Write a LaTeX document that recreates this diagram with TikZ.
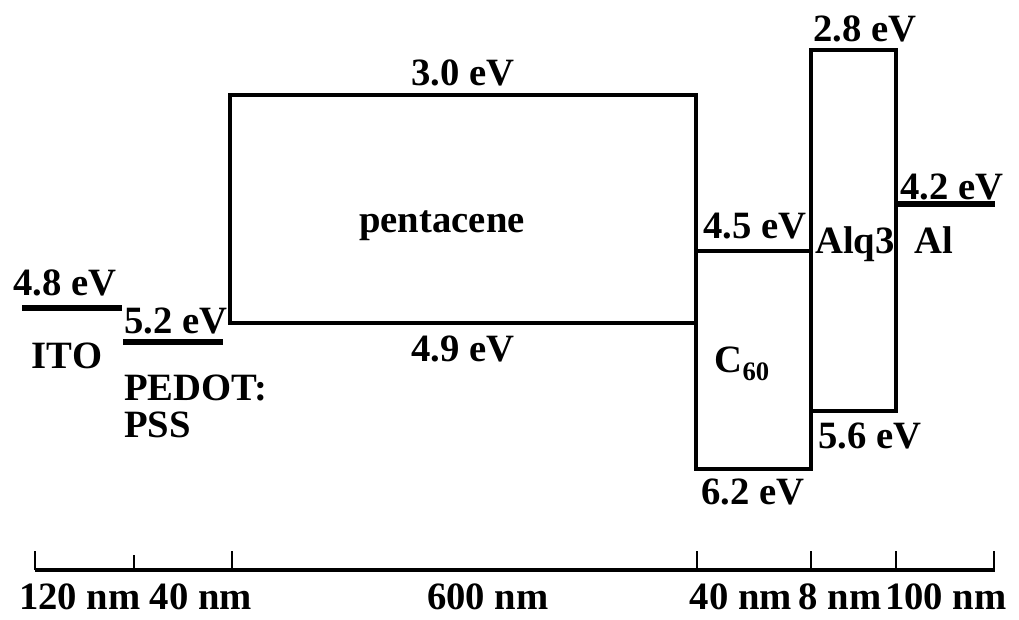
\documentclass[tikz,border=0pt]{standalone}
\usepackage{fontspec}
\setmainfont{Liberation Serif}
\usetikzlibrary{positioning}
\tikzset{
  band/.style={draw=black,line width=2.3pt,line join=miter},
  metal/.style={line width=4.6pt},
  axisline/.style={line width=2.6pt},
  tickmark/.style={line width=2pt},
  lbl/.style={inner sep=0pt,anchor=base,font=\bfseries\fontsize{29}{34}\selectfont},
  scalelbl/.style={lbl,text depth=0pt}
}
\begin{document}
\begin{tikzpicture}[x=0.75pt,y=-0.75pt]
  \useasboundingbox (0,0) rectangle (1019,619);
  % electrodes as single levels, organic layers as HOMO/LUMO boxes
  \coordinate (itoL) at (22,308);   \coordinate (itoR) at (122,308);
  \coordinate (pedL) at (123,342);  \coordinate (pedR) at (223,342);
  \coordinate (penTL) at (230,95);  \coordinate (penBR) at (696,323);
  \coordinate (c60TL) at (696,251); \coordinate (c60BR) at (811,469);
  \coordinate (alqTL) at (811,50);  \coordinate (alqBR) at (896,411);
  \coordinate (alL) at (898,204);   \coordinate (alR) at (995,204);

  \draw[metal] (itoL) -- (itoR);
  \draw[metal] (pedL) -- (pedR);
  \draw[band] (penTL) rectangle (penBR);
  \draw[band] (c60TL) rectangle (c60BR);
  \draw[band] (alqTL) rectangle (alqBR);
  \draw[metal] (alL) -- (alR);

  \node[lbl] (itoE) at (65,295) {4.8 eV};
  \node[lbl] (itoN) at (67,368) {ITO};
  \node[lbl] (pedE) at (176,333) {5.2 eV};
  \node[lbl,anchor=base west] (pedN) at (124,400) {PEDOT:};
  \node[lbl,anchor=base west] (pssN) at (124,437) {PSS};
  \node[lbl] (penLumo) at (463,85) {3.0 eV};
  \node[lbl] (penN) at (442,232) {pentacene};
  \node[lbl] (penHomo) at (463,361) {4.9 eV};
  \node[lbl] (c60Lumo) at (755,238) {4.5 eV};
  \node[lbl] (c60N) at (742,372) {C\raisebox{-6pt}{\fontsize{20}{20}\selectfont 60}};
  \node[lbl] (c60Homo) at (753,504) {6.2 eV};
  \node[lbl] (alqLumo) at (865,41) {2.8 eV};
  \node[lbl] (alqN) at (855,253) {Alq3};
  \node[lbl] (alqHomo) at (870,448) {5.6 eV};
  \node[lbl] (alE) at (952,199) {4.2 eV};
  \node[lbl] (alN) at (934,253) {Al};

  % thickness scale
  \draw[axisline] (35,570) -- (995,570);
  \foreach \x/\top in {35/551,134/555,232/551,697/551,811/551,896/551,994/551}
    \draw[tickmark] (\x,570) -- (\x,\top);
  \node[scalelbl] (d1) at (80,609) {120 nm};
  \node[scalelbl] (d2) at (201,609) {40 nm};
  \node[scalelbl] (d3) at (488,609) {600 nm};
  \node[scalelbl] (d4) at (741,609) {40 nm};
  \node[scalelbl] (d5) at (840,609) {8 nm};
  \node[scalelbl] (d6) at (946,609) {100 nm};
\end{tikzpicture}
\end{document}
